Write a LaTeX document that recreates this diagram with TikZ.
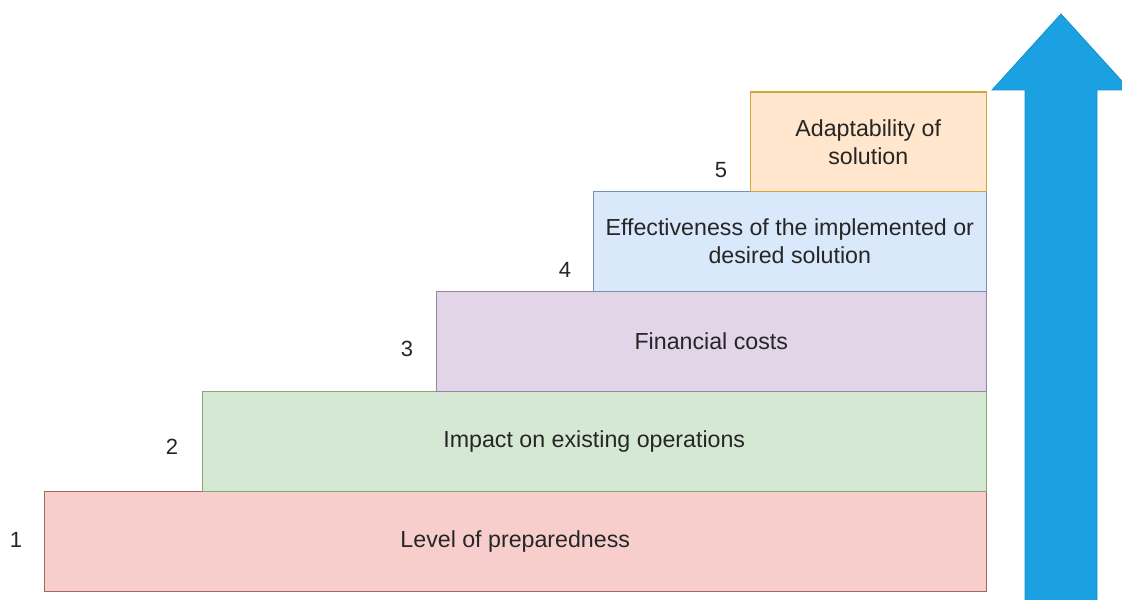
\documentclass[tikz,border=0pt]{standalone}
\usepackage{fontspec}
\setmainfont{Liberation Sans}
\usetikzlibrary{positioning}
\definecolor{stRedFill}{HTML}{F8CECC}
\definecolor{stRedLine}{HTML}{A8655F}
\definecolor{stGreenFill}{HTML}{D5E8D4}
\definecolor{stGreenLine}{HTML}{86A870}
\definecolor{stPurpleFill}{HTML}{E1D5E7}
\definecolor{stPurpleLine}{HTML}{9A82A6}
\definecolor{stBlueFill}{HTML}{DAE8FC}
\definecolor{stBlueLine}{HTML}{7890B4}
\definecolor{stOrangeFill}{HTML}{FFE6CC}
\definecolor{stOrangeLine}{HTML}{D0A53A}
\definecolor{upBlue}{HTML}{1BA1E2}
\definecolor{upEdge}{HTML}{1590CC}
\tikzset{
  stair/.style   = {draw=#1Line, fill=#1Fill, line width=0.75pt, anchor=south east,
                    minimum height=50pt, align=center, inner sep=0pt,
                    font=\fontsize{11.6}{14}\selectfont, text=black!85},
  stepnum/.style = {font=\fontsize{11}{12}\selectfont, text=black!85},
}

\begin{document}
\begin{tikzpicture}[x=0.5pt,y=-0.5pt]
  \useasboundingbox (0,0) rectangle (1122,599);
  % the five steps, right edges lined up
  \node[stair=stRed,    minimum width=471pt] (lvl1) at (987,592) {Level of preparedness};
  \node[stair=stGreen,  minimum width=392pt] (lvl2) at (987,492) {Impact on existing operations};
  \node[stair=stPurple, minimum width=275pt] (lvl3) at (987,392) {Financial costs};
  \node[stair=stBlue,   minimum width=196.5pt] (lvl4) at (987,292)
    {Effectiveness of the implemented or\\desired solution};
  \node[stair=stOrange, minimum width=118pt, minimum height=49.5pt] (lvl5) at (987,192)
    {Adaptability of\\solution};
  % step numbers
  \node[stepnum] (n1) at (16,540) {1};
  \node[stepnum] (n2) at (172,447) {2};
  \node[stepnum] (n3) at (407,349) {3};
  \node[stepnum] (n4) at (565,270) {4};
  \node[stepnum] (n5) at (721,170) {5};
  % big upward arrow
  \fill[upBlue, draw=upEdge, line width=0.4pt]
    (1025,605) -- (1025,90) -- (992,90) -- (1061,14) -- (1130,90)
    -- (1097,90) -- (1097,605) -- cycle;
\end{tikzpicture}
\end{document}
